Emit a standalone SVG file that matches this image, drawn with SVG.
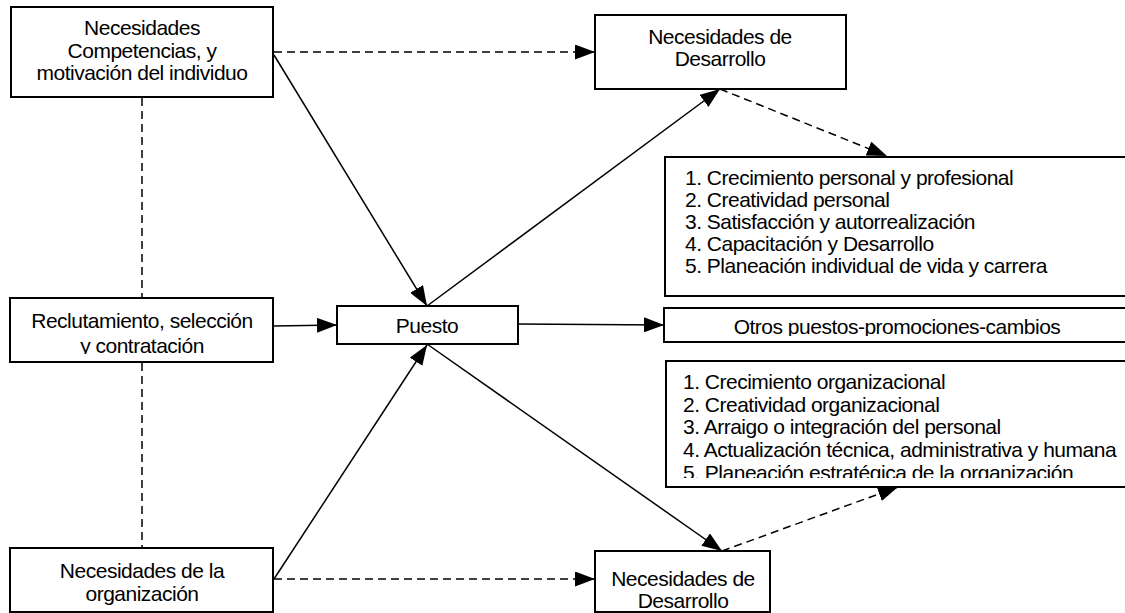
<svg xmlns="http://www.w3.org/2000/svg" width="1125" height="613" viewBox="0 0 1125 613">
  <defs>
    <marker id="arrow" viewBox="0 0 20 15" refX="20" refY="7.5" markerWidth="20" markerHeight="15" markerUnits="userSpaceOnUse" orient="auto">
      <path d="M0,0 L20,7.5 L0,15 Z" fill="#000"/>
    </marker>
    <clipPath id="clipRecl"><rect x="12" y="300" width="260" height="54"/></clipPath>
    <clipPath id="clipOtros"><rect x="665" y="309" width="470" height="27"/></clipPath>
    <clipPath id="clipOrg"><rect x="667" y="362" width="470" height="116"/></clipPath>
  </defs>
  <style>
    .box { fill: #fff; stroke: #000; stroke-width: 2; }
    .t { font-family: "Liberation Sans", Arial, sans-serif; font-size: 21px; letter-spacing: -0.5px; fill: #000; }
    .c { text-anchor: middle; }
    .solid { fill: none; stroke: #000; stroke-width: 1.5; }
    .dash { fill: none; stroke: #000; stroke-width: 1.5; stroke-dasharray: 8 5; }
  </style>

  <!-- connectors -->
  <g id="connectors">
    <line class="dash" x1="142" y1="98" x2="142" y2="298"/>
    <line class="dash" x1="142" y1="363" x2="142" y2="548"/>
    <line class="dash" x1="274" y1="52" x2="595" y2="52" marker-end="url(#arrow)"/>
    <line class="solid" x1="274" y1="55" x2="427" y2="306" marker-end="url(#arrow)"/>
    <line class="solid" x1="427" y1="306" x2="720" y2="89" marker-end="url(#arrow)"/>
    <line class="dash" x1="720" y1="89" x2="887" y2="156" marker-end="url(#arrow)"/>
    <line class="solid" x1="274" y1="326" x2="337" y2="325" marker-end="url(#arrow)"/>
    <line class="solid" x1="518" y1="324" x2="664" y2="325" marker-end="url(#arrow)"/>
    <line class="solid" x1="427" y1="344" x2="722" y2="551" marker-end="url(#arrow)"/>
    <line class="solid" x1="274" y1="579" x2="427" y2="345" marker-end="url(#arrow)"/>
    <line class="dash" x1="274" y1="579" x2="595" y2="579" marker-end="url(#arrow)"/>
    <line class="dash" x1="722" y1="551" x2="898" y2="487" marker-end="url(#arrow)"/>
  </g>

  <!-- individual needs -->
  <g id="node-individuo">
    <rect class="box" x="11" y="7" width="262" height="90"/>
    <text class="t c" x="142" y="35">Necesidades</text>
    <text class="t c" x="142" y="58">Competencias, y</text>
    <text class="t c" x="142" y="80">motivación del individuo</text>
  </g>

  <!-- development needs (top) -->
  <g id="node-desarrollo-sup">
    <rect class="box" x="595" y="15" width="251" height="74"/>
    <text class="t c" x="720" y="44">Necesidades de</text>
    <text class="t c" x="720" y="66">Desarrollo</text>
  </g>

  <!-- personal outcomes list -->
  <g id="node-lista-personal">
    <rect class="box" x="665" y="157" width="470" height="139"/>
    <text class="t" x="685" y="185">1. Crecimiento personal y profesional</text>
    <text class="t" x="685" y="207">2. Creatividad personal</text>
    <text class="t" x="685" y="229">3. Satisfacción y autorrealización</text>
    <text class="t" x="685" y="251">4. Capacitación y Desarrollo</text>
    <text class="t" x="685" y="273">5. Planeación individual de vida y carrera</text>
  </g>

  <!-- recruitment -->
  <g id="node-reclutamiento">
    <rect class="box" x="10" y="298" width="263" height="64"/>
    <g clip-path="url(#clipRecl)">
      <text class="t c" x="142" y="328">Reclutamiento, selección</text>
      <text class="t c" x="142" y="353">y contratación</text>
    </g>
  </g>

  <!-- job -->
  <g id="node-puesto">
    <rect class="box" x="337" y="306" width="181" height="38"/>
    <text class="t c" x="427" y="333">Puesto</text>
  </g>

  <!-- other jobs -->
  <g id="node-otros">
    <rect class="box" x="664" y="308" width="470" height="34"/>
    <g clip-path="url(#clipOtros)">
      <text class="t c" x="897" y="334">Otros puestos-promociones-cambios</text>
    </g>
  </g>

  <!-- organizational outcomes list -->
  <g id="node-lista-org">
    <rect class="box" x="666" y="361" width="470" height="126"/>
    <g clip-path="url(#clipOrg)">
      <text class="t" x="683" y="389">1. Crecimiento organizacional</text>
      <text class="t" x="683" y="412">2. Creatividad organizacional</text>
      <text class="t" x="683" y="434">3. Arraigo o integración del personal</text>
      <text class="t" x="683" y="457">4. Actualización técnica, administrativa y humana</text>
      <text class="t" x="683" y="480">5. Planeación estratégica de la organización</text>
    </g>
  </g>

  <!-- organization needs -->
  <g id="node-organizacion">
    <rect class="box" x="10" y="548" width="263" height="64"/>
    <text class="t c" x="142" y="578">Necesidades de la</text>
    <text class="t c" x="142" y="601">organización</text>
  </g>

  <!-- development needs (bottom) -->
  <g id="node-desarrollo-inf">
    <rect class="box" x="595" y="551" width="175" height="61"/>
    <text class="t c" x="683" y="586">Necesidades de</text>
    <text class="t c" x="683" y="608">Desarrollo</text>
  </g>
</svg>
